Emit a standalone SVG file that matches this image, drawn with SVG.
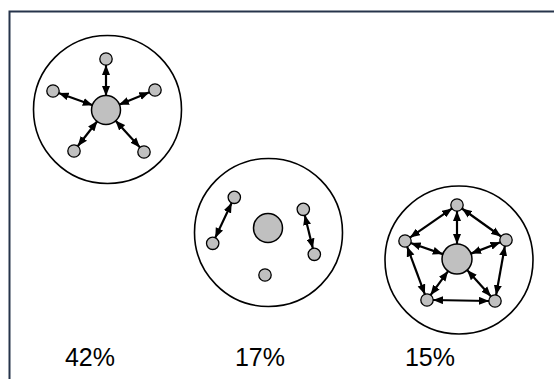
<svg xmlns="http://www.w3.org/2000/svg" width="554" height="379" viewBox="0 0 554 379">
<style>
.ring{fill:#fff;stroke:#000;stroke-width:1.6}
.hub{fill:#c0c0c0;stroke:#000;stroke-width:1.5}
.sat{fill:#c0c0c0;stroke:#000;stroke-width:1.3}
.conn line{stroke:#000;stroke-width:2.2;marker-start:url(#ah);marker-end:url(#ah)}
.lbl{font-family:"Liberation Sans",Arial,sans-serif;font-size:25px;fill:#000;text-anchor:middle}
</style>
<defs>
<marker id="ah" viewBox="0 0 10 8" refX="10" refY="4" markerWidth="10" markerHeight="8.5" markerUnits="userSpaceOnUse" orient="auto-start-reverse">
<path d="M0,0 L10,4 L0,8 z" fill="#000"/>
</marker>
</defs>
<rect width="554" height="379" fill="#fff"/>
<path d="M9.5,379 V11.5 H554" fill="none" stroke="#26344b" stroke-width="2"/>

<g id="cluster1">
<circle class="ring" cx="107.5" cy="109.5" r="74"/>
<circle class="hub" cx="106" cy="110" r="14.5"/>
<circle class="sat" cx="106" cy="59" r="6.2"/>
<circle class="sat" cx="53" cy="91" r="6.2"/>
<circle class="sat" cx="155" cy="90" r="6.2"/>
<circle class="sat" cx="74" cy="151" r="6.2"/>
<circle class="sat" cx="144" cy="152" r="6.2"/>
</g>
<g id="cluster2">
<circle class="ring" cx="268.5" cy="232.5" r="74"/>
<circle class="hub" cx="268" cy="228" r="14.5"/>
<circle class="sat" cx="234.3" cy="197.3" r="6.2"/>
<circle class="sat" cx="212.7" cy="243.3" r="6.2"/>
<circle class="sat" cx="303.3" cy="209.3" r="6.2"/>
<circle class="sat" cx="314.3" cy="254.3" r="6.2"/>
<circle class="sat" cx="265" cy="275" r="6.2"/>
</g>
<g id="cluster3">
<circle class="ring" cx="459" cy="260" r="74"/>
<circle class="hub" cx="457" cy="259" r="15"/>
<circle class="sat" cx="457" cy="205" r="6.2"/>
<circle class="sat" cx="405" cy="241" r="6.2"/>
<circle class="sat" cx="506" cy="240" r="6.2"/>
<circle class="sat" cx="427" cy="300" r="6.2"/>
<circle class="sat" cx="495" cy="301" r="6.2"/>
</g>

<g id="connectors" class="conn">
<line x1="106" y1="65" x2="106" y2="96"/>
<line x1="58.6" y1="93" x2="92.8" y2="105.3"/>
<line x1="149.4" y1="92.3" x2="119" y2="104.7"/>
<line x1="77.7" y1="146.3" x2="97.4" y2="121"/>
<line x1="140" y1="147.5" x2="115.4" y2="120.4"/>

<line x1="231.7" y1="202.7" x2="215.2" y2="237.9"/>
<line x1="304.7" y1="215.1" x2="312.9" y2="248.5"/>

<line x1="457" y1="211" x2="457" y2="244"/>
<line x1="410.7" y1="243" x2="442.8" y2="254.1"/>
<line x1="500.4" y1="242.2" x2="471" y2="253.6"/>
<line x1="430.5" y1="295.2" x2="448.1" y2="271.1"/>
<line x1="491" y1="296.5" x2="467.1" y2="270.1"/>
<line x1="452.1" y1="208.4" x2="409.9" y2="237.6"/>
<line x1="461.9" y1="208.5" x2="501.1" y2="236.5"/>
<line x1="407.1" y1="246.6" x2="424.9" y2="294.4"/>
<line x1="504.9" y1="245.9" x2="496.1" y2="295.1"/>
<line x1="433" y1="300" x2="489" y2="301"/>
</g>

<g id="labels">
<text class="lbl" x="90" y="366">42%</text>
<text class="lbl" x="260" y="366">17%</text>
<text class="lbl" x="430" y="366">15%</text>
</g>
</svg>
